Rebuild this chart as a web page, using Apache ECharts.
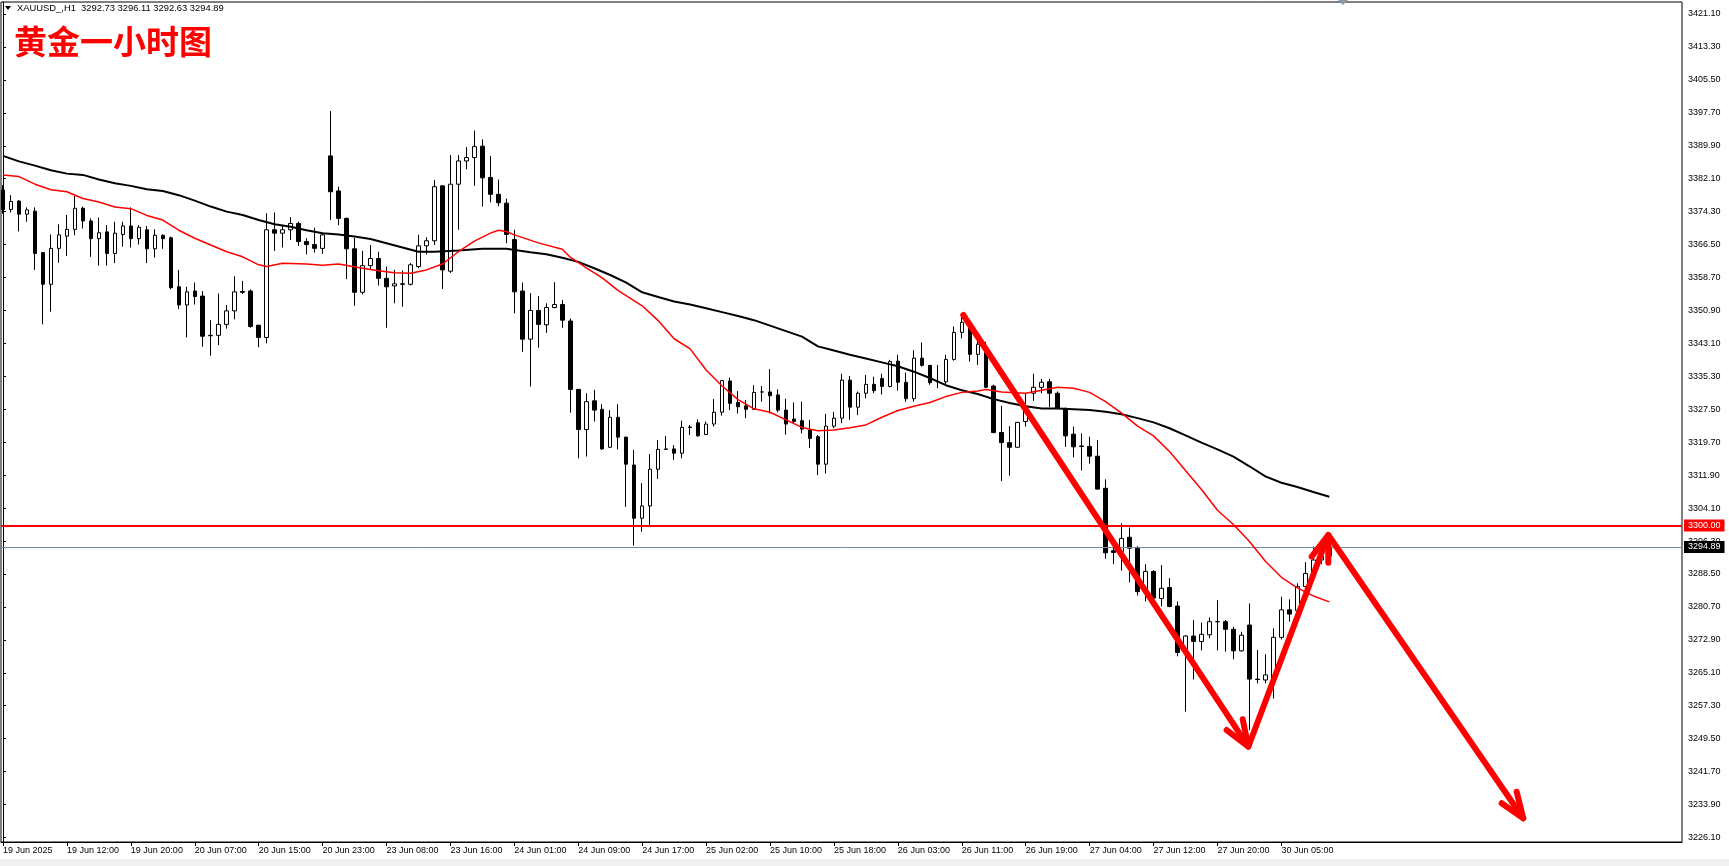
<!DOCTYPE html>
<html>
<head>
<meta charset="utf-8">
<script src="https://cdn.jsdelivr.net/npm/echarts@6/dist/echarts.min.js"></script>
<style>
html,body{margin:0;padding:0;background:#ffffff;}
#chart{width:1729px;height:866px;}
</style>
</head>
<body>
<div id="chart"></div>
<script>
// ---------------- data ----------------
const symbolName = 'XAUUSD_,H1';
const chartTitle = '黄金一小时图';
const lastBarOHLC = [3292.73, 3296.11, 3292.63, 3294.89];

const timeTickBars = [0, 8, 16, 24, 32, 40, 48, 56, 64, 72, 80, 88, 96, 104, 112, 120, 128, 136, 144, 152, 160];
const timeTickLabels = ['19 Jun 2025', '19 Jun 12:00', '19 Jun 20:00', '20 Jun 07:00', '20 Jun 15:00',
  '20 Jun 23:00', '23 Jun 08:00', '23 Jun 16:00', '24 Jun 01:00', '24 Jun 09:00', '24 Jun 17:00',
  '25 Jun 02:00', '25 Jun 10:00', '25 Jun 18:00', '26 Jun 03:00', '26 Jun 11:00', '26 Jun 19:00',
  '27 Jun 04:00', '27 Jun 12:00', '27 Jun 20:00', '30 Jun 05:00'];

const priceTicks = [3421.10, 3413.30, 3405.50, 3397.70, 3389.90, 3382.10, 3374.30, 3366.50, 3358.70,
  3350.90, 3343.10, 3335.30, 3327.50, 3319.70, 3311.90, 3304.10, 3296.30, 3288.50, 3280.70, 3272.90,
  3265.10, 3257.30, 3249.50, 3241.70, 3233.90, 3226.10];

const barOpen = [
  3379.4,3374.8,3376.8,3373.7,3374.4,3364.6,3357.1,3365.6,3368.5,3370.1,
  3375.1,3372.1,3367.9,3369.5,3364.4,3368.9,3370.9,3367.9,3370.0,3365.5,
  3368.7,3368.1,3356.5,3352.2,3355.5,3354.3,3345.0,3345.0,3347.6,3350.8,
  3355.4,3355.5,3347.4,3344.5,3370.0,3369.2,3370.0,3371.5,3367.2,3366.5,
  3365.6,3387.5,3379.2,3372.7,3365.5,3355.2,3361.5,3363.2,3358.5,3356.7,
  3357.2,3357.1,3361.3,3366.2,3367.4,3380.4,3360.2,3380.8,3386.3,3387.1,
  3389.8,3382.4,3378.4,3376.3,3367.7,3355.5,3344.1,3350.9,3347.5,3351.6,
  3352.3,3348.4,3332.2,3322.7,3329.5,3327.5,3318.5,3325.6,3320.9,3314.3,
  3301.7,3304.6,3313.3,3318.0,3318.1,3317.1,3323.2,3324.3,3321.5,3324.0,
  3326.8,3334.2,3329.1,3328.3,3327.5,3331.6,3331.6,3330.9,3327.3,3325.2,
  3324.8,3322.6,3321.0,3314.5,3323.5,3325.4,3334.4,3328.0,3331.3,3333.4,
  3334.8,3332.9,3338.9,3333.9,3330.0,3339.6,3337.9,3334.0,3334.0,3339.3,
  3345.7,3347.7,3340.5,3340.9,3333.0,3322.0,3319.6,3318.5,3324.6,3331.3,
  3332.7,3334.0,3331.3,3327.7,3321.6,3318.8,3318.7,3316.4,3308.8,3294.0,
  3293.8,3297.2,3294.6,3284.3,3289.1,3282.7,3285.3,3280.9,3269.9,3273.8,
  3272.5,3274.1,3277.2,3277.2,3275.4,3270.3,3276.4,3263.6,3263.4,3263.4,
  3273.5,3280.0,3279.8,3285.5,3288.6,3291.8,3292.73];
const barHigh = [
  3380.6,3378.2,3377.0,3375.3,3375.3,3364.7,3368.9,3371.3,3373.5,3378.0,
  3375.5,3372.7,3372.9,3371.1,3371.9,3371.9,3375.3,3371.1,3370.9,3370.1,
  3368.9,3368.4,3360.5,3356.5,3357.5,3355.5,3348.6,3354.9,3352.2,3359.0,
  3357.9,3355.9,3347.5,3373.9,3374.1,3371.1,3373.0,3371.9,3368.0,3370.5,
  3369.3,3398.1,3380.2,3372.9,3368.1,3365.0,3366.4,3364.8,3361.3,3360.5,
  3360.4,3362.1,3368.8,3368.2,3381.8,3380.6,3387.7,3387.7,3389.6,3393.5,
  3391.4,3387.5,3381.9,3377.4,3370.0,3357.5,3355.0,3354.3,3352.6,3357.6,
  3353.4,3349.0,3332.2,3331.3,3332.1,3328.7,3327.3,3328.7,3321.0,3317.9,
  3310.0,3316.9,3320.2,3321.2,3319.0,3324.8,3323.8,3325.1,3324.6,3329.9,
  3334.3,3335.0,3331.8,3329.7,3333.2,3333.0,3337.0,3332.2,3330.0,3329.1,
  3329.3,3325.0,3321.4,3326.4,3326.9,3335.9,3335.4,3331.7,3335.6,3335.2,
  3335.9,3339.2,3340.4,3336.2,3341.5,3343.3,3338.0,3338.0,3340.4,3347.1,
  3349.8,3348.6,3343.9,3343.5,3333.3,3328.3,3323.5,3324.4,3331.1,3335.9,
  3334.7,3334.7,3331.7,3327.9,3323.4,3321.8,3321.0,3320.2,3310.9,3296.0,
  3300.5,3299.5,3295.1,3290.8,3289.4,3290.6,3287.5,3282.0,3274.0,3277.6,
  3277.0,3278.2,3282.3,3277.6,3276.0,3274.8,3281.5,3270.5,3269.5,3275.6,
  3283.1,3282.5,3286.3,3291.3,3295.0,3295.5,3296.11];
const barLow = [
  3373.8,3374.1,3369.6,3371.9,3360.5,3347.6,3350.6,3362.2,3363.8,3368.7,
  3370.3,3363.6,3361.5,3361.5,3362.1,3366.0,3365.8,3366.5,3362.1,3363.4,
  3365.5,3355.9,3351.2,3344.5,3352.3,3342.3,3340.2,3342.7,3346.6,3348.8,
  3354.8,3346.8,3342.2,3343.1,3365.0,3365.8,3367.6,3366.2,3364.2,3364.6,
  3364.3,3372.3,3371.1,3358.3,3352.0,3354.7,3360.5,3356.8,3346.8,3352.6,
  3351.8,3356.8,3360.9,3364.2,3366.4,3356.0,3359.8,3370.0,3384.3,3380.4,
  3375.5,3376.5,3375.6,3366.8,3350.2,3341.1,3332.9,3342.1,3345.6,3351.4,
  3346.8,3326.7,3315.9,3316.3,3324.6,3317.9,3318.3,3318.0,3304.4,3295.2,
  3298.5,3299.7,3311.0,3317.9,3315.5,3315.9,3321.4,3321.0,3321.4,3323.4,
  3326.0,3327.3,3326.5,3325.4,3327.3,3329.3,3326.5,3326.8,3321.5,3324.2,
  3321.8,3318.3,3311.9,3312.3,3323.0,3324.2,3325.0,3326.1,3330.1,3331.3,
  3331.0,3332.7,3331.9,3329.3,3329.3,3337.6,3333.3,3332.5,3333.3,3339.0,
  3344.3,3338.8,3338.0,3332.5,3321.8,3310.5,3311.8,3318.5,3323.4,3329.5,
  3331.3,3328.0,3327.5,3318.6,3316.1,3313.0,3314.6,3308.4,3292.1,3290.8,
  3289.3,3286.5,3283.4,3282.0,3282.0,3280.8,3280.6,3269.0,3255.9,3263.5,
  3270.4,3273.3,3270.4,3270.1,3268.3,3270.1,3251.5,3262.6,3262.6,3259.0,
  3273.0,3277.2,3279.2,3285.2,3288.5,3290.8,3292.63];
const barClose = [
  3374.8,3376.7,3373.7,3374.7,3364.4,3357.1,3365.6,3368.8,3370.1,3375.1,
  3372.1,3367.9,3369.3,3364.4,3369.2,3370.9,3367.9,3370.6,3365.5,3368.7,
  3367.9,3356.3,3352.2,3355.3,3354.2,3344.8,3344.9,3347.6,3350.8,3355.3,
  3355.2,3347.1,3344.5,3370.0,3369.2,3370.0,3371.5,3367.2,3366.5,3365.6,
  3368.8,3379.0,3372.7,3365.5,3355.2,3361.5,3363.2,3358.5,3356.5,3357.2,
  3357.1,3361.7,3366.2,3367.4,3380.2,3360.5,3380.8,3386.3,3387.1,3389.7,
  3382.3,3378.4,3376.4,3368.9,3355.3,3344.1,3350.9,3347.6,3351.6,3352.3,
  3348.6,3332.2,3322.7,3329.3,3327.3,3318.1,3325.6,3320.9,3314.5,3301.7,
  3304.6,3313.3,3318.0,3318.1,3317.1,3323.2,3323.3,3321.2,3324.0,3326.8,
  3334.3,3328.9,3328.1,3327.5,3331.5,3331.6,3330.7,3327.3,3324.0,3324.6,
  3322.8,3320.6,3314.5,3323.5,3325.4,3334.4,3328.0,3331.3,3333.4,3331.9,
  3332.9,3338.8,3333.9,3330.0,3339.6,3337.9,3333.8,3334.0,3339.3,3345.7,
  3348.1,3340.5,3342.9,3332.7,3322.0,3319.6,3318.5,3324.4,3328.1,3332.7,
  3333.9,3331.3,3327.7,3321.2,3318.6,3318.7,3316.4,3308.6,3293.5,3293.6,
  3296.9,3294.6,3284.3,3289.1,3282.8,3285.1,3280.8,3269.9,3273.8,3272.5,
  3274.2,3277.2,3277.2,3275.4,3270.3,3274.0,3263.6,3263.5,3264.6,3273.5,
  3280.0,3279.0,3285.5,3288.6,3291.8,3292.7,3294.89];

// moving averages: [bar index, price]
const maFast = [[0,3383.0],[2,3382.6],[4,3380.8],[6,3379.5],[8,3379.0],[10,3377.4],[12,3376.6],[14,3375.4],
  [16,3375.0],[18,3373.4],[20,3372.3],[22,3369.9],[24,3368.0],[26,3366.4],[28,3364.8],[30,3363.6],
  [32,3361.7],[33,3361.3],[35,3362.1],[38,3361.9],[40,3361.6],[42,3361.9],[45,3360.9],[47,3360.3],
  [49,3359.8],[51,3359.7],[53,3360.5],[55,3361.9],[57,3364.8],[59,3367.3],[61,3369.2],[62,3369.9],
  [63,3369.6],[64,3368.8],[67,3366.9],[70,3365.4],[71,3363.5],[73,3361.0],[75,3358.6],[77,3355.6],
  [80,3352.0],[82,3348.5],[84,3344.2],[86,3341.8],[88,3336.8],[90,3333.0],[92,3329.8],[94,3327.6],
  [96,3326.8],[98,3325.0],[100,3323.2],[102,3322.4],[104,3322.6],[106,3323.1],[108,3323.8],[110,3325.6],
  [112,3327.2],[114,3328.2],[116,3329.1],[118,3330.5],[120,3331.5],[122,3331.8],[123,3332.2],[125,3331.6],
  [128,3331.3],[130,3332.0],[132,3332.7],[134,3332.5],[136,3331.5],[138,3329.3],[140,3326.6],[142,3323.5],
  [144,3321.2],[146,3317.5],[148,3313.0],[150,3308.5],[152,3303.6],[154,3300.2],[156,3296.2],[158,3291.5],
  [160,3287.7],[162,3285.2],[164,3283.3],[166,3281.9]];
const maSlow = [[0,3387.5],[2,3386.2],[4,3385.2],[6,3384.1],[8,3383.3],[10,3383.0],[12,3381.9],[14,3381.0],
  [16,3380.4],[18,3379.6],[20,3379.2],[22,3378.2],[24,3376.9],[26,3375.5],[28,3374.3],[30,3373.5],
  [32,3372.3],[34,3371.3],[36,3370.7],[38,3369.9],[40,3369.2],[42,3368.9],[44,3368.4],[46,3367.8],
  [48,3366.8],[50,3365.8],[52,3364.8],[54,3364.8],[57,3365.1],[60,3365.5],[63,3365.5],[66,3364.7],
  [68,3364.2],[70,3363.4],[72,3362.4],[74,3360.9],[76,3359.3],[78,3357.5],[80,3355.2],[82,3354.1],
  [84,3353.0],[86,3352.3],[88,3351.4],[90,3350.5],[92,3349.6],[94,3348.6],[96,3347.3],[98,3346.0],
  [100,3344.7],[102,3342.4],[104,3341.4],[106,3340.4],[108,3339.5],[110,3338.6],[112,3337.7],[114,3336.4],
  [116,3334.9],[118,3333.2],[120,3332.0],[122,3331.1],[124,3329.9],[126,3329.0],[128,3328.2],[130,3327.7],
  [132,3327.7],[134,3327.5],[136,3327.3],[138,3326.9],[140,3326.3],[142,3325.4],[144,3324.4],[146,3323.0],
  [148,3321.3],[150,3319.6],[152,3318.0],[154,3316.3],[156,3314.0],[158,3311.6],[160,3310.1],[162,3309.1],
  [164,3307.9],[166,3306.8]];

const levelPrice = 3300.00;
const bidPrice = 3294.89;

// hand-drawn arrows, in [bar index, price]
const arrowPath = [[120.19,3349.82],[155.86,3247.60],[165.87,3297.73],[190.27,3230.64]];
const arrowHeads = [
  [[153.15,3251.55],[155.86,3247.60],[155.16,3254.09]],
  [[163.79,3292.59],[165.87,3297.73],[165.87,3291.17]],
  [[187.57,3234.20],[190.27,3230.64],[189.45,3236.94]]
];

// ---------------- chart ----------------
const FONT = '"Liberation Sans", Arial, sans-serif';
const candles = barOpen.map((o, i) => [i, o, barClose[i], barLow[i], barHigh[i]]);

const chart = echarts.init(document.getElementById('chart'), null, {renderer: 'canvas'});

const arrowStyle = {color: '#ff0000', width: 6, cap: 'round', join: 'round'};
const arrowSeries = [{
  type: 'line', data: arrowPath, symbol: 'none', silent: true, z: 20,
  lineStyle: arrowStyle, animation: false
}].concat(arrowHeads.map(h => ({
  type: 'line', data: h, symbol: 'none', silent: true, z: 20,
  lineStyle: arrowStyle, animation: false
})));

const option = {
  animation: false,
  backgroundColor: '#ffffff',
  grid: {
    left: 1, right: 47, top: 2, bottom: 24,
    show: true, borderColor: '#000000', borderWidth: 1, backgroundColor: '#ffffff',
    containLabel: false, outerBoundsMode: 'none'
  },
  xAxis: {
    type: 'value', min: -0.25, max: 210.14,
    axisLine: {show: true, lineStyle: {color: '#000', width: 1}},
    splitLine: {show: false},
    axisTick: {show: true, customValues: timeTickBars, length: 4, lineStyle: {color: '#000'}},
    axisLabel: {
      show: true, customValues: timeTickBars, align: 'left', margin: 4,
      color: '#000', fontSize: 9, fontFamily: FONT,
      formatter: v => timeTickLabels[timeTickBars.indexOf(Math.round(v))] || ''
    }
  },
  yAxis: {
    type: 'value', position: 'right', min: 3225.03, max: 3423.94, scale: true,
    axisLine: {show: true, lineStyle: {color: '#000', width: 1}},
    splitLine: {show: false},
    axisTick: {show: true, customValues: priceTicks, length: 3, lineStyle: {color: '#000'}},
    axisLabel: {
      show: true, customValues: priceTicks, margin: 6, color: '#000',
      fontSize: 9, fontFamily: FONT, formatter: v => v.toFixed(2)
    }
  },
  series: [
    {
      type: 'candlestick', data: candles, barWidth: 4, z: 2,
      encode: {x: 0, y: [1, 2, 3, 4]},
      itemStyle: {color: '#ffffff', color0: '#000000', borderColor: '#000000', borderColor0: '#000000', borderWidth: 1},
      silent: true
    },
    {
      type: 'line', data: maSlow, symbol: 'none', z: 5, silent: true,
      lineStyle: {color: '#000000', width: 2}
    },
    {
      type: 'line', data: maFast, symbol: 'none', z: 6, silent: true,
      lineStyle: {color: '#ff0000', width: 1.5},
      markLine: {
        symbol: 'none', silent: true, animation: false,
        data: [
          {yAxis: levelPrice, lineStyle: {color: '#ff0000', width: 2, type: 'solid'},
           label: {show: true, position: 'end', distance: 2, formatter: levelPrice.toFixed(2),
             color: '#ffffff', backgroundColor: '#ff0000', padding: [1, 4, 1, 4], lineHeight: 10,
             fontSize: 9, fontFamily: FONT}},
          {yAxis: bidPrice, lineStyle: {color: '#778899', width: 1, type: 'solid'},
           label: {show: true, position: 'end', distance: 2, formatter: bidPrice.toFixed(2),
             color: '#ffffff', backgroundColor: '#000000', padding: [1, 4, 1, 4], lineHeight: 10,
             fontSize: 9, fontFamily: FONT}}
        ]
      }
    }
  ].concat(arrowSeries),
  graphic: [
    {type: 'rect', left: 0, top: 859, shape: {width: 1729, height: 7}, style: {fill: '#f0f0f0'}, silent: true},
    {type: 'polygon', shape: {points: [[5, 6], [11, 6], [8, 10]]}, style: {fill: '#000'}, silent: true},
    {type: 'text', left: 17, top: 4,
     style: {text: symbolName + '  ' + lastBarOHLC.map(v => v.toFixed(2)).join(' '),
       fill: '#000', font: '9.4px ' + FONT}, silent: true},
    {type: 'text', left: 14, top: 25,
     style: {text: chartTitle, fill: '#ff0000', font: 'bold 33px "Noto Sans CJK SC"',
       textShadowColor: '#2040ff', textShadowOffsetX: 1, textShadowOffsetY: 0, textShadowBlur: 0},
     silent: true},
    {type: 'polygon', shape: {points: [[1338, 0], [1348, 0], [1343, 5]]}, style: {fill: '#8a9aa8'}, silent: true}
  ]
};
chart.setOption(option);
</script>
</body>
</html>
